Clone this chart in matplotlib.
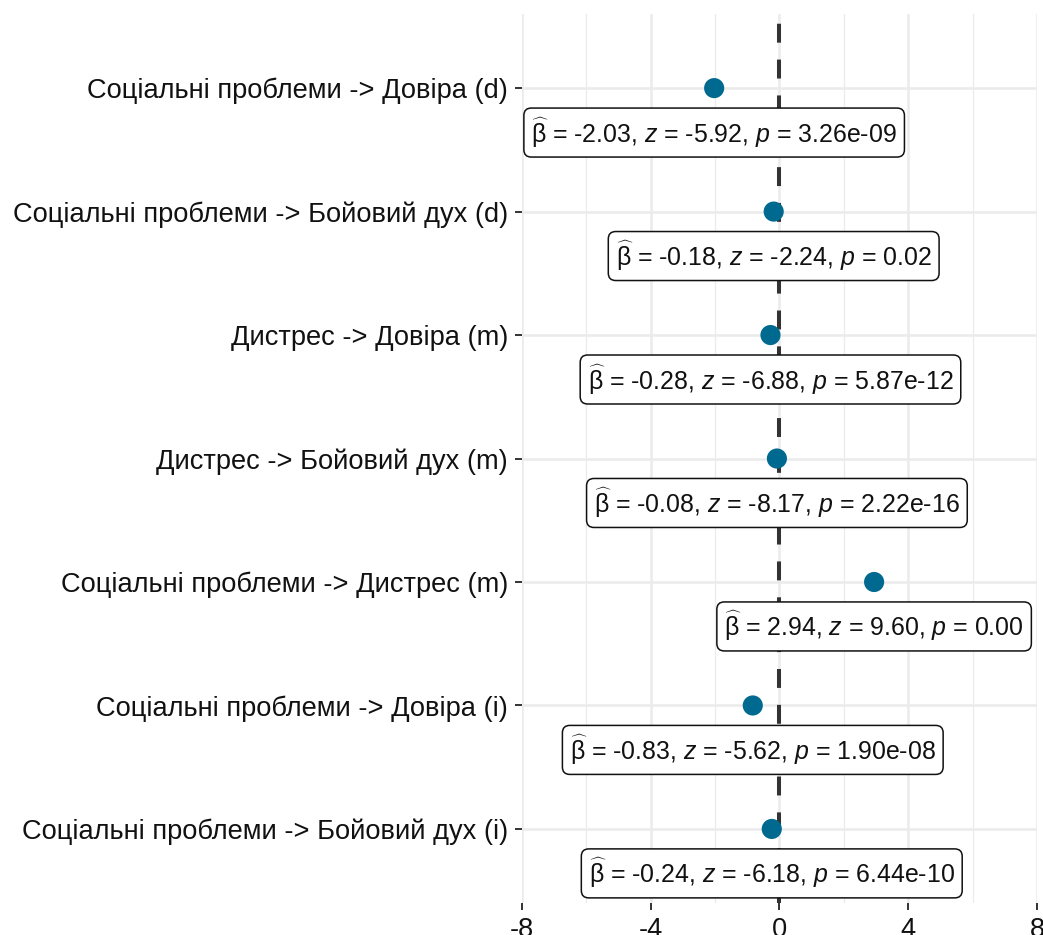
import matplotlib
matplotlib.use('Agg')
import matplotlib.pyplot as plt
import numpy as np

# ── Data ──────────────────────────────────────────────────────────────
paths = ['Соціальні проблеми -> Довіра (d)',
         'Соціальні проблеми -> Бойовий дух (d)',
         'Дистрес -> Довіра (m)',
         'Дистрес -> Бойовий дух (m)',
         'Соціальні проблеми -> Дистрес (m)',
         'Соціальні проблеми -> Довіра (i)',
         'Соціальні проблеми -> Бойовий дух (i)']
beta = [-2.03, -0.18, -0.28, -0.08, 2.94, -0.83, -0.24]
z_vals = ['-5.92', '-2.24', '-6.88', '-8.17', '9.60', '-5.62', '-6.18']
p_vals = ['3.26e-09', '0.02', '5.87e-12', '2.22e-16', '0.00', '1.90e-08', '6.44e-10']
x_ticks = [-8, -4, 0, 4, 8]

plt.rcParams['font.family'] = ['Liberation Sans', 'DejaVu Sans']
plt.rcParams['mathtext.fontset'] = 'custom'
plt.rcParams['mathtext.rm'] = 'Liberation Sans'
plt.rcParams['mathtext.it'] = 'Liberation Sans:italic'

fig = plt.figure(figsize=(10.43, 9.35), dpi=100)
ax = fig.add_axes([0.5005, 0.0342, 0.4937, 0.9508])

ypos = np.arange(len(paths))

# grid
ax.set_xlim(-8, 8)
ax.set_ylim(len(paths) - 0.4, -0.6)
ax.set_xticks(x_ticks)
ax.set_xticks([-6, -2, 2, 6], minor=True)
ax.set_yticks(ypos)
ax.set_yticklabels(paths, fontsize=19.6, color='#111111')
ax.set_xticklabels([str(t) for t in x_ticks], fontsize=19.6, color='#111111')
ax.grid(which='major', color='#EBEBEB', lw=1.8)
ax.grid(which='minor', axis='x', color='#EBEBEB', lw=0.9)
ax.set_axisbelow(True)
for s in ax.spines.values():
    s.set_visible(False)
ax.tick_params(which='major', length=5, width=1.4, color='#333333')
ax.tick_params(axis='y', pad=5)
ax.tick_params(axis='x', pad=5)
ax.tick_params(which='minor', length=0)

# zero line
ax.axvline(0, color='#333333', lw=2.9, ls=(0, (4.7, 4.2)), zorder=2)

# points
ax.scatter(beta, ypos, s=210, color='#00698F', zorder=3, edgecolors='none')

# labels
for b, zv, pv, y in zip(beta, z_vals, p_vals, ypos):
    txt = (r'$\widehat{\mathrm{\beta}}$ = ' + f'{b:.2f}, ' + r'$z$ = ' + zv +
           ', ' + r'$p$ = ' + pv)
    ax.text(b, y + 0.36, txt, ha='center', va='center', fontsize=17.9,
            color='#111111', zorder=4,
            bbox=dict(boxstyle='round,pad=0.3,rounding_size=0.3',
                      fc='white', ec='#111111', lw=1.1))

fig.savefig('out.png', dpi=100)
